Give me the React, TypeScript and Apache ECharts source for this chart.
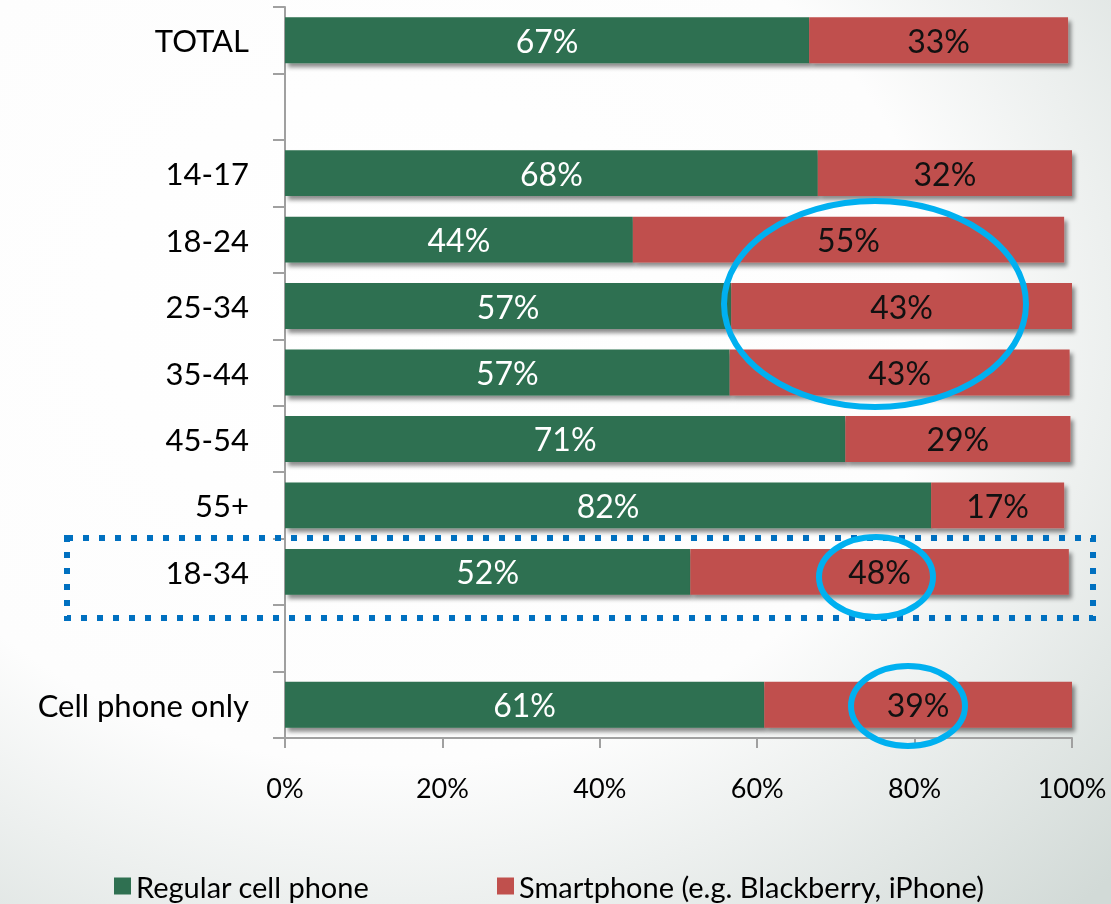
import React, { useEffect, useRef } from "react";
import * as echarts from "echarts";

const categories = [
  "TOTAL",
  "",
  "14-17",
  "18-24",
  "25-34",
  "35-44",
  "45-54",
  "55+",
  "18-34",
  " ",
  "Cell phone only",
];
const regularCellPhone = [66.6, null, 67.7, 44.2, 56.7, 56.5, 71.2, 82.1, 51.5, null, 60.9];
const smartphone = [32.9, null, 32.3, 54.8, 43.3, 43.2, 28.6, 16.9, 48.1, null, 39.1];
const seriesNames = ["Regular cell phone", "Smartphone (e.g. Blackberry, iPhone)"];
const xTicks = [0, 20, 40, 60, 80, 100];

const GREEN = "#2f7051";
const RED = "#c0504d";
const FONT = "Lato, 'Open Sans', sans-serif";

export default function App() {
  const ref = useRef<HTMLDivElement>(null);
  useEffect(() => {
    if (!ref.current) return;
    const chart = echarts.init(ref.current, null, { renderer: "svg" });
    const shadow = {
      shadowBlur: 4,
      shadowColor: "rgba(0,0,0,0.45)",
      shadowOffsetX: 3,
      shadowOffsetY: 4,
    };
    const legendText = { fontSize: 29, color: "#000", fontFamily: FONT, lineHeight: 30 };
    chart.setOption({
      animation: false,
      backgroundColor: {
        type: "radial",
        x: 0.35,
        y: 0.35,
        r: 0.9,
        colorStops: [
          { offset: 0, color: "#ffffff" },
          { offset: 0.55, color: "#fdfdfd" },
          { offset: 1, color: "#d2dad7" },
        ],
      },
      textStyle: { fontFamily: FONT },
      grid: { left: 285, right: 39, top: 7, bottom: 166, containLabel: false },
      legend: [
        {
          data: [seriesNames[0]],
          left: 114,
          top: 871,
          padding: 0,
          itemWidth: 17,
          itemHeight: 17,
          icon: "rect",
          itemGap: 8,
          textStyle: legendText,
        },
        {
          data: [seriesNames[1]],
          left: 497,
          top: 871,
          padding: 0,
          itemWidth: 17,
          itemHeight: 17,
          icon: "rect",
          textStyle: legendText,
        },
      ],
      xAxis: {
        type: "value",
        min: xTicks[0],
        max: xTicks[xTicks.length - 1],
        interval: 20,
        axisLine: { show: true, lineStyle: { color: "#a0a0a0", width: 2 } },
        axisTick: { show: true, length: 10, lineStyle: { color: "#a0a0a0", width: 2 } },
        splitLine: { show: false },
        axisLabel: {
          formatter: "{value}%",
          fontSize: 27,
          color: "#000",
          margin: 36,
          fontFamily: FONT,
        },
      },
      yAxis: {
        type: "category",
        data: categories,
        inverse: true,
        axisLine: { show: true, lineStyle: { color: "#a0a0a0", width: 2 } },
        axisTick: { show: true, length: 12, lineStyle: { color: "#a0a0a0", width: 2 } },
        axisLabel: { fontSize: 31, color: "#000", margin: 36, fontFamily: FONT },
      },
      series: [
        {
          name: seriesNames[0],
          type: "bar",
          stack: "total",
          barCategoryGap: "31%",
          data: regularCellPhone,
          itemStyle: { color: GREEN, ...shadow },
          label: {
            show: true,
            position: "inside",
            color: "#ffffff",
            fontSize: 32,
            fontFamily: FONT,
            formatter: (p: any) => `${Math.round(p.value)}%`,
          },
        },
        {
          name: seriesNames[1],
          type: "bar",
          stack: "total",
          barCategoryGap: "31%",
          data: smartphone,
          itemStyle: { color: RED, ...shadow },
          label: {
            show: true,
            position: "inside",
            color: "#111111",
            fontSize: 32,
            fontFamily: FONT,
            formatter: (p: any) => `${Math.round(p.value)}%`,
          },
        },
      ],
      graphic: [
        {
          type: "rect",
          z: 100,
          shape: { x: 67, y: 538, width: 1026, height: 80 },
          style: { fill: "none", stroke: "#0070c0", lineWidth: 6, lineDash: [6, 10] },
        },
        {
          type: "ellipse",
          z: 100,
          shape: { cx: 875, cy: 304, rx: 151, ry: 103 },
          style: { fill: "none", stroke: "#00b0f0", lineWidth: 6 },
        },
        {
          type: "ellipse",
          z: 100,
          shape: { cx: 876, cy: 577, rx: 57, ry: 40 },
          style: { fill: "none", stroke: "#00b0f0", lineWidth: 6 },
        },
        {
          type: "ellipse",
          z: 100,
          shape: { cx: 908, cy: 706, rx: 57, ry: 40 },
          style: { fill: "none", stroke: "#00b0f0", lineWidth: 6 },
        },
      ],
    });
    return () => chart.dispose();
  }, []);
  return (
    <div
      ref={ref}
      style={{ position: "fixed", left: 0, top: 0, width: 1111, height: 904 }}
    />
  );
}
